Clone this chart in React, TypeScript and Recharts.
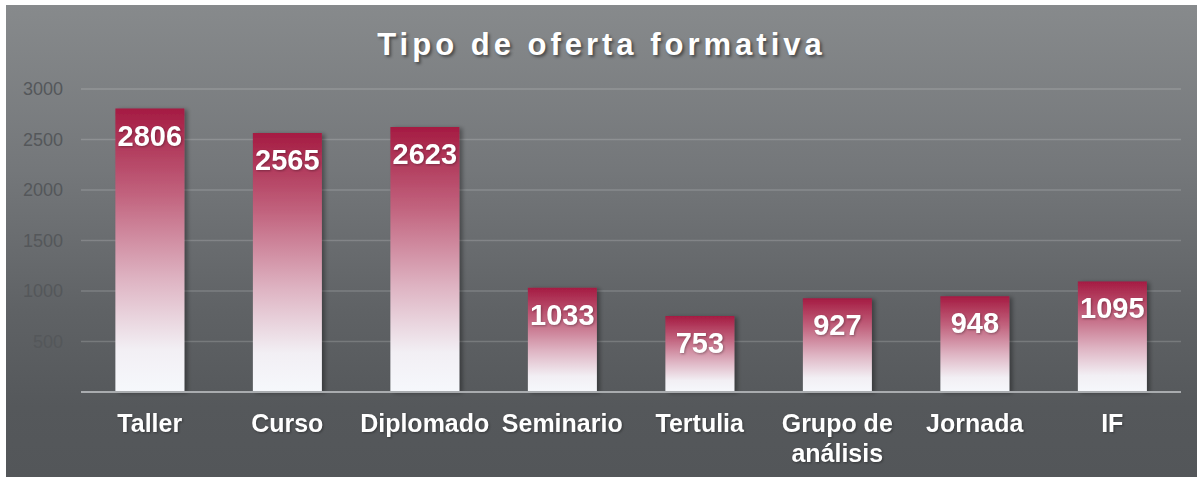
import { BarChart, Bar, XAxis, YAxis, CartesianGrid, LabelList } from 'recharts'

const categories = ['Taller', 'Curso', 'Diplomado', 'Seminario', 'Tertulia', 'Grupo de análisis', 'Jornada', 'IF']
const values = [2806, 2565, 2623, 1033, 753, 927, 948, 1095]
const yTicks = [500, 1000, 1500, 2000, 2500, 3000]

const data = categories.map((name, i) => ({ name, value: values[i] }))

const FONT = '"Liberation Sans", Arial, sans-serif'

function CategoryTick(props: any) {
  const { x, y, payload } = props
  const text: string = payload.value
  const lines = text.includes(' de ') ? ['Grupo de', 'análisis'] : [text]
  return (
    <text
      x={x}
      y={y + 40}
      textAnchor="middle"
      fill="#ffffff"
      fontFamily={FONT}
      fontWeight="bold"
      fontSize={25}
      style={{ filter: 'drop-shadow(1px 1px 1px rgba(0,0,0,0.35))' }}
    >
      {lines.map((l, i) => (
        <tspan key={i} x={x} dy={i === 0 ? 0 : 30}>
          {l}
        </tspan>
      ))}
    </text>
  )
}

function ValueLabel(props: any) {
  const { x, y, width, value } = props
  return (
    <text
      x={x + width / 2}
      y={y + 37}
      textAnchor="middle"
      fill="#ffffff"
      fontFamily={FONT}
      fontWeight="bold"
      fontSize={29}
      style={{ filter: 'drop-shadow(1px 1px 1px rgba(0,0,0,0.3))' }}
    >
      {value}
    </text>
  )
}

export default function App() {
  return (
    <div
      style={{
        position: 'absolute',
        left: 6,
        top: 5,
        width: 1191,
        height: 472,
        background: 'linear-gradient(to bottom, #878a8c 0%, #74777a 35%, #5f6265 65%, #55585b 85%, #535659 100%)',
      }}
    >
      <div
        style={{
          position: 'absolute',
          left: 0,
          width: 1191,
          top: 22,
          textAlign: 'center',
          color: '#ffffff',
          fontFamily: FONT,
          fontWeight: 'bold',
          fontSize: 31,
          letterSpacing: 4,
          textShadow: '2px 2px 3px rgba(0,0,0,0.45)',
        }}
      >
        Tipo de oferta formativa
      </div>
      <BarChart
        width={1191}
        height={472}
        data={data}
        margin={{ top: 84, right: 16, bottom: 25, left: 0 }}
        barCategoryGap="25%"
      >
        <defs>
          <linearGradient id="barFill" x1="0" y1="0" x2="0" y2="1">
            <stop offset="0%" stopColor="#a51b42" />
            <stop offset="30%" stopColor="#c1627d" />
            <stop offset="60%" stopColor="#deb3c2" />
            <stop offset="85%" stopColor="#f2eff4" />
            <stop offset="100%" stopColor="#f6f8fc" />
          </linearGradient>
          <filter id="barShadow" x="-20%" y="-10%" width="150%" height="120%">
            <feDropShadow dx="3" dy="1" stdDeviation="2" floodColor="#000" floodOpacity="0.35" />
          </filter>
        </defs>
        <CartesianGrid vertical={false} stroke="rgba(255,255,255,0.17)" strokeWidth={1.5} />
        <XAxis
          dataKey="name"
          interval={0}
          tickSize={0}
          tickMargin={0}
          height={60}
          axisLine={{ stroke: '#a9acaf', strokeWidth: 2 }}
          tickLine={false}
          tick={<CategoryTick />}
        />
        <YAxis
          width={75}
          domain={[0, 3000]}
          ticks={yTicks}
          axisLine={false}
          tickLine={false}
          tickSize={0}
          tickMargin={18}
          tick={{ fill: '#54575a', fontSize: 18, fontFamily: FONT }}
        />
        <Bar dataKey="value" fill="url(#barFill)" filter="url(#barShadow)" isAnimationActive={false}>
          <LabelList dataKey="value" content={<ValueLabel />} />
        </Bar>
      </BarChart>
    </div>
  )
}
